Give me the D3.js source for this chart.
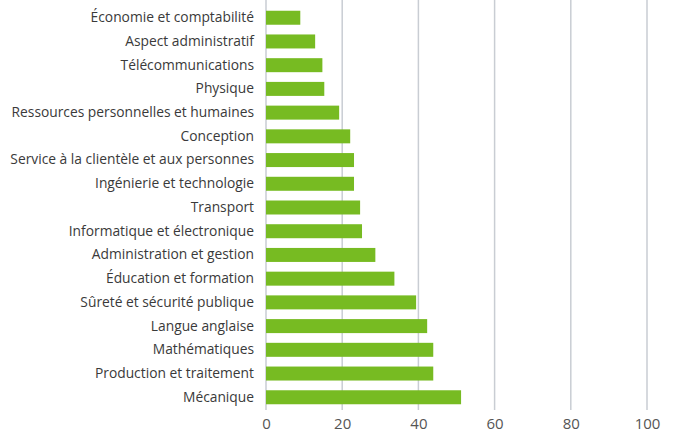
<!DOCTYPE html>
<html>
<head>
<meta charset="utf-8">
<script src="https://cdn.jsdelivr.net/npm/d3@7"></script>
<style>
  body { margin: 0; background: #fff; }
  text { font-family: "Open Sans", Lato, sans-serif; }
</style>
</head>
<body>
<div id="chart"></div>
<script>
var categories = [
  "Économie et comptabilité",
  "Aspect administratif",
  "Télécommunications",
  "Physique",
  "Ressources personnelles et humaines",
  "Conception",
  "Service à la clientèle et aux personnes",
  "Ingénierie et technologie",
  "Transport",
  "Informatique et électronique",
  "Administration et gestion",
  "Éducation et formation",
  "Sûreté et sécurité publique",
  "Langue anglaise",
  "Mathématiques",
  "Production et traitement",
  "Mécanique"
];
var values = [9.0, 12.9, 14.8, 15.3, 19.2, 22.1, 23.1, 23.1, 24.7, 25.2, 28.7, 33.7, 39.4, 42.3, 43.9, 43.9, 51.2];
var tickValues = [0, 20, 40, 60, 80, 100];

var width = 674, height = 436;
var margin = {top: 6, right: 27, bottom: 27, left: 266};

var svg = d3.select("#chart").append("svg")
    .attr("width", width)
    .attr("height", height);

var x = d3.scaleLinear()
    .domain([0, 100])
    .range([margin.left, width - margin.right]);

var y = d3.scaleBand()
    .domain(categories)
    .range([margin.top, height - margin.bottom])
    .paddingInner(0.41)
    .paddingOuter(0.2);

// grid lines
svg.append("g")
  .selectAll("line")
  .data(tickValues)
  .enter().append("line")
    .attr("x1", function(d) { return x(d); })
    .attr("x2", function(d) { return x(d); })
    .attr("y1", 0)
    .attr("y2", height - margin.bottom + 1)
    .attr("stroke", "#c9cdd3")
    .attr("stroke-width", 1.5);

// bars
svg.append("g")
  .selectAll("rect")
  .data(values)
  .enter().append("rect")
    .attr("x", x(0))
    .attr("y", function(d, i) { return y(categories[i]); })
    .attr("width", function(d) { return x(d) - x(0); })
    .attr("height", y.bandwidth())
    .attr("fill", "#77bb22");

// category labels
var yAxis = svg.append("g")
    .attr("transform", "translate(" + (margin.left - 12) + ",0)")
    .call(d3.axisLeft(y).tickSize(0).tickPadding(0));
yAxis.select(".domain").remove();
yAxis.selectAll("text")
    .attr("fill", "#3a3a3a")
    .style("font-size", "13.8px");

// value axis
var xAxis = svg.append("g")
    .attr("transform", "translate(0," + (height - margin.bottom) + ")")
    .call(d3.axisBottom(x).tickValues(tickValues).tickSize(0).tickPadding(9));
xAxis.select(".domain").remove();
xAxis.selectAll("text")
    .attr("fill", "#555")
    .style("font-size", "15px");
</script>
</body>
</html>
